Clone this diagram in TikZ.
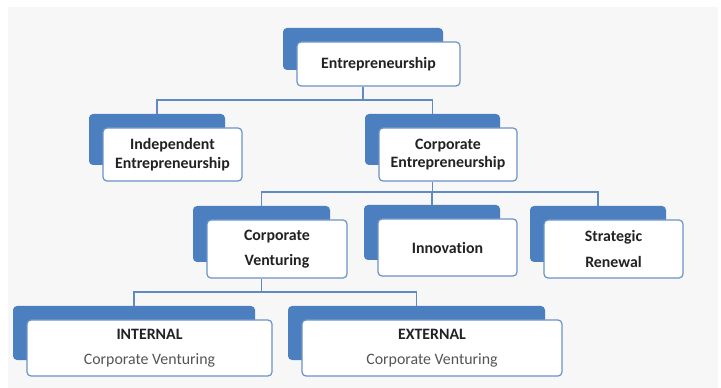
\documentclass[tikz,border=0pt]{standalone}
\usepackage{fontspec}
\setmainfont{Carlito}[Ligatures=NoCommon]
\definecolor{bgray}{HTML}{F7F7F7}
\definecolor{backblue}{HTML}{4C7FBF}
\definecolor{edgeblue}{HTML}{6C93C6}
\definecolor{linkblue}{HTML}{5F8AC2}
\definecolor{txtdark}{HTML}{222222}
\definecolor{txtgray}{HTML}{555555}
\tikzset{
  backbox/.style={fill=backblue, draw=none, rounded corners=3pt, inner sep=0pt},
  frontbox/.style={fill=white, draw=edgeblue, line width=0.9pt, rounded corners=3pt,
    inner sep=0pt, align=center, text=txtdark, font=\fontsize{11.9}{13.8}\selectfont\bfseries},
  widespace/.style={font=\fontsize{11.9}{19}\selectfont\bfseries},
  conn/.style={draw=linkblue, line width=1.1pt},
}
\newcommand{\orgbox}[7][]{%
  \pgfmathsetmacro{\oboxbw}{(#4-3)*0.75}%
  \pgfmathsetmacro{\oboxbh}{(#5-2)*0.75}%
  \pgfmathsetmacro{\oboxww}{#4*0.75}%
  \pgfmathsetmacro{\oboxwh}{#5*0.75}%
  \node[backbox, minimum width=\oboxbw pt, minimum height=\oboxbh pt] (#2b) at (#3) {};%
  \node[frontbox, #1, minimum width=\oboxww pt, minimum height=\oboxwh pt] (#2) at ([shift={(15.5,15)}]#2b.center) {#6#7};%
}
\begin{document}
\begin{tikzpicture}[x=0.75pt,y=-0.75pt]
\useasboundingbox (0,0) rectangle (721,388);
\fill[white] (0,0) rectangle (721,388);
\fill[bgray] (8,7) rectangle (718,388);

\orgbox{E}{363,49}{163}{44}{Entrepreneurship}{}
\orgbox{IE}{157,139.5}{139}{53}{Independent\\Entrepreneurship}{}
\orgbox{CE}{432.5,139.5}{138}{53}{Corporate\\Entrepreneurship}{}
\orgbox[widespace]{CV}{261.5,234}{140}{58}{Corporate\\Venturing}{}
\orgbox{IN}{432,232.5}{139}{57}{Innovation}{}
\orgbox[widespace]{SR}{598,234}{139}{58}{Strategic\\Renewal}{}
\orgbox[widespace]{INT}{134,333}{245}{56}{INTERNAL\\}{{\mdseries\color{txtgray}Corporate Venturing}}
\orgbox[widespace]{EXT}{416.5,333}{260}{56}{EXTERNAL\\}{{\mdseries\color{txtgray}Corporate Venturing}}

\coordinate (bar1) at (0,100);
\coordinate (bar2) at (0,192);
\coordinate (bar3) at (0,292);

\draw[conn] (E.south -| Eb.center) -- (Eb.center |- bar1);
\draw[conn] (IEb.north) -- (IEb.north |- bar1) -- (CEb.north |- bar1) -- (CEb.north);

\draw[conn] (CE.south -| CEb.center) -- (CEb.center |- bar2);
\draw[conn] (CVb.north) -- (CVb.north |- bar2) -- (SRb.north |- bar2) -- (SRb.north);
\draw[conn] (INb.north |- bar2) -- (INb.north);

\draw[conn] (CV.south -| CVb.center) -- (CVb.center |- bar3);
\draw[conn] (INTb.north) -- (INTb.north |- bar3) -- (EXTb.north |- bar3) -- (EXTb.north);
\end{tikzpicture}
\end{document}
